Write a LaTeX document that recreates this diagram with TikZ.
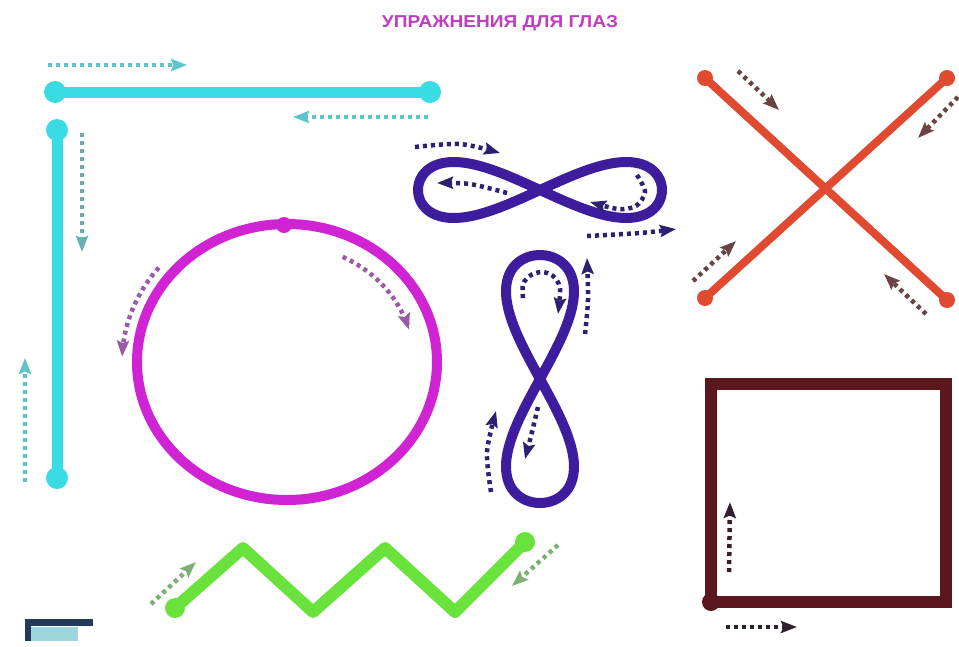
\documentclass[tikz,border=0pt]{standalone}
\usepackage{fontspec}
\setmainfont{Liberation Sans}
\usetikzlibrary{arrows.meta}
\definecolor{cyanL}{HTML}{38DCE2}
\definecolor{cyanA}{HTML}{5CC4CC}
\definecolor{magL}{HTML}{D024D4}
\definecolor{magA}{HTML}{9A5AA8}
\definecolor{indL}{HTML}{3E1C9E}
\definecolor{indA}{HTML}{2C2070}
\definecolor{redL}{HTML}{E04A30}
\definecolor{redA}{HTML}{6A4444}
\definecolor{marL}{HTML}{5A181E}
\definecolor{marA}{HTML}{302030}
\definecolor{grnL}{HTML}{6AE23C}
\definecolor{grnA}{HTML}{7AB070}
\definecolor{titleC}{HTML}{C03CC0}
\definecolor{logoD}{HTML}{23395A}
\definecolor{logoL}{HTML}{9ED6DE}
\begin{document}
\begin{tikzpicture}[x=1pt,y=-1pt,
  dotarrow/.style={line width=4.5pt, dash pattern=on 4pt off 4pt,
    -{Stealth[length=16pt,width=12pt,inset=2.5pt]}},
  thickline/.style={line width=#1, line cap=round, line join=round},
]
\useasboundingbox (0,0) rectangle (959,646);
\fill[white] (0,0) rectangle (959,646);

% title
\node[text=titleC, inner sep=0pt] (title) at (500,23)
  {\resizebox{236pt}{12pt}{\bfseries УПРАЖНЕНИЯ ДЛЯ ГЛАЗ}};

% ---- cyan L ----
\coordinate (h1) at (55,92); \coordinate (h2) at (430,92);
\coordinate (v1) at (57,130); \coordinate (v2) at (57,478);
\draw[cyanL, thickline=11pt] (h1) -- (h2);
\draw[cyanL, thickline=11pt] (v1) -- (v2);
\foreach \p in {h1,h2,v1,v2} \fill[cyanL] (\p) circle (11);
\coordinate (ca1) at (48,65);  \coordinate (ca2) at (187,65);
\coordinate (cb1) at (428,117); \coordinate (cb2) at (293,117);
\coordinate (cc1) at (82,133); \coordinate (cc2) at (82,252);
\coordinate (cd1) at (25,482); \coordinate (cd2) at (25,358);
\draw[dotarrow, cyanA] (ca1) -- (ca2);
\draw[dotarrow, cyanA] (cb1) -- (cb2);
\draw[dotarrow, cyanA!70!gray] (cc1) -- (cc2);
\draw[dotarrow, cyanA] (cd1) -- (cd2);

% ---- magenta circle ----
\coordinate (mc) at (287,362);
\draw[magL, line width=10pt] (mc) ellipse [x radius=150, y radius=138];
\fill[magL] (284,225) circle (8);
\draw[dotarrow, magA] plot[domain=64:16, samples=20]
  ({287+127*cos(\x)}, {362-117*sin(\x)});
\draw[dotarrow, magA] plot[domain=141:178, samples=20]
  ({287+165*cos(\x)}, {362-150*sin(\x)});

% ---- horizontal infinity ----
\draw[indL, line width=10pt, line join=round] plot[domain=0:360, samples=120, smooth]
  ({540+122*cos(\x)}, {190+56*sin(\x)*cos(\x)}) -- cycle;
\draw[dotarrow, indA] plot[smooth] coordinates {(415,147) (460,144) (500,153)};
\draw[dotarrow, indA] plot[smooth] coordinates {(507,193) (470,184) (437,183)};
\draw[dotarrow, indA] plot[smooth] coordinates {(637,175) (645,192) (636,206) (618,209) (590,202)};
\draw[dotarrow, indA] plot[smooth] coordinates {(587,236) (640,233) (676,229)};

% ---- vertical infinity ----
\draw[indL, line width=10pt, line join=round] plot[domain=0:360, samples=120, smooth]
  ({540+68*sin(\x)*cos(\x)}, {379+124*cos(\x)}) -- cycle;
\draw[dotarrow, indA] plot[smooth] coordinates {(523,298) (523,284) (531,275) (542,272) (553,276) (560,288) (558,314)};
\draw[dotarrow, indA] plot[smooth] coordinates {(585,334) (588,300) (587,258)};
\draw[dotarrow, indA] plot[smooth] coordinates {(538,407) (532,432) (525,459)};
\draw[dotarrow, indA] plot[smooth] coordinates {(491,492) (487,452) (496,411)};

% ---- red X ----
\coordinate (x1) at (705,78); \coordinate (x2) at (947,300);
\coordinate (x3) at (947,78); \coordinate (x4) at (705,298);
\draw[redL, thickline=8pt] (x1) -- (x2);
\draw[redL, thickline=8pt] (x3) -- (x4);
\foreach \p in {x1,x2,x3,x4} \fill[redL] (\p) circle (8);
\coordinate (ra1) at (738,71);  \coordinate (ra2) at (779,110);
\coordinate (rb1) at (958,97);  \coordinate (rb2) at (918,138);
\coordinate (rc1) at (693,281); \coordinate (rc2) at (736,241);
\coordinate (rd1) at (926,314); \coordinate (rd2) at (884,274);
\draw[dotarrow, redA] (ra1) -- (ra2);
\draw[dotarrow, redA] (rb1) -- (rb2);
\draw[dotarrow, redA] (rc1) -- (rc2);
\draw[dotarrow, redA] (rd1) -- (rd2);

% ---- maroon square ----
\coordinate (s1) at (711,602); \coordinate (s3) at (946,384);
\draw[marL, line width=12pt] (s1) rectangle (s3);
\fill[marL] (s1) circle (9);
\coordinate (sa1) at (729,572); \coordinate (sa2) at (730,502);
\coordinate (sb1) at (726,627); \coordinate (sb2) at (797,627);
\draw[dotarrow, marA] (sa1) -- (sa2);
\draw[dotarrow, marA] (sb1) -- (sb2);

% ---- green zigzag ----
\coordinate (g1) at (175,608); \coordinate (g6) at (525,542);
\draw[grnL, thickline=12pt] (g1) -- (243,548) -- (313,612) -- (385,548) -- (455,612) -- (g6);
\fill[grnL] (g1) circle (10);
\fill[grnL] (g6) circle (10);
\coordinate (ga1) at (151,604); \coordinate (ga2) at (196,562);
\coordinate (gb1) at (558,545); \coordinate (gb2) at (512,586);
\draw[dotarrow, grnA] (ga1) -- (ga2);
\draw[dotarrow, grnA] (gb1) -- (gb2);

% ---- small logo ----
\fill[logoL] (30,627) rectangle (78,641);
\fill[logoD] (25,619) rectangle (93,626);
\fill[logoD] (25,619) rectangle (31,641);
\end{tikzpicture}
\end{document}
